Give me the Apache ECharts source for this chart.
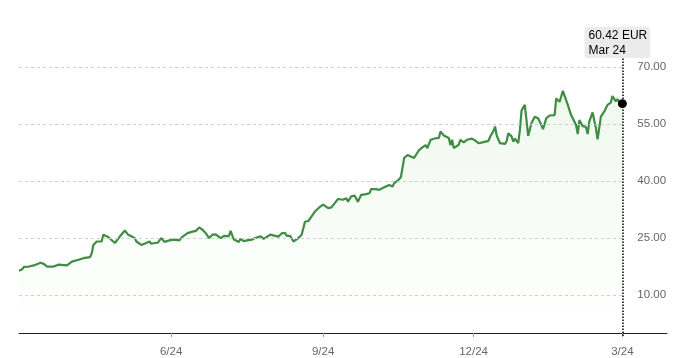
<!DOCTYPE html>
<html>
<head>
<meta charset="utf-8">
<script src="https://cdn.jsdelivr.net/npm/echarts@6/dist/echarts.min.js"></script>
<style>
html,body{margin:0;padding:0;background:#fff;}
#chart{width:680px;height:358px;}
</style>
</head>
<body>
<div id="chart"></div>
<script>
// ---- data ----
const startDate = '2024-03-24';           // first trading day shown
const extraAxisDays = 27;                 // axis continues past last data point
const dayOffsets = [0,2,3,6,9,13,15,17,21,24,29,32,36,39,43,44,45,47,50,51,54,58,61,64,66,68,70,71,74,75,77,79,80,82,84,86,88,91,94,97,99,102,105,107,109,111,113,115,117,119,120,122,124,127,128,130,133,134,136,138,141,143,146,148,152,155,157,159,161,162,164,166,169,171,173,175,177,179,182,184,185,187,189,191,193,196,198,199,201,203,205,207,210,212,213,216,218,220,222,224,226,227,229,231,233,235,237,239,240,242,244,246,247,249,252,254,255,257,258,260,261,262,263,264,266,267,269,271,274,276,278,281,284,285,287,288,289,291,294,295,296,298,299,300,302,303,304,306,307,308,310,312,314,316,317,319,321,324,325,327,328,329,330,332,334,337,338,339,341,343,344,345,347,349,350,352,354,356,358,359,361,362,363,365];
const prices = [16.4,16.8,17.4,17.5,17.8,18.5,18.2,17.5,17.5,18.0,17.8,18.8,19.3,19.7,20.0,21.0,23.2,24.1,24.1,25.9,25.3,23.7,25.4,27.0,25.9,25.5,25.0,24.1,23.2,23.7,23.7,24.1,23.5,23.7,23.8,25.0,24.0,24.4,24.6,24.4,25.4,26.3,26.7,26.9,27.8,27.2,26.3,25.0,25.9,26.0,26.3,25.0,25.6,25.5,26.9,24.6,24.0,24.8,24.2,24.4,24.6,25.0,25.5,24.8,25.9,25.6,25.4,26.3,26.3,25.6,25.6,24.1,25.0,25.9,29.3,29.5,30.7,32.0,33.2,33.8,33.4,32.9,33.1,34.2,35.3,35.1,35.5,34.6,36.0,36.2,34.6,36.4,36.6,36.8,37.9,37.9,37.7,38.2,38.6,39.0,38.6,39.5,40.1,41.0,46.1,46.9,46.5,46.1,45.9,48.2,48.9,49.5,48.7,50.9,51.3,51.4,53.1,52.0,51.8,51.4,49.5,50.9,48.7,48.9,49.6,50.9,50.2,50.9,51.2,50.7,50.0,50.3,50.6,51.7,53.2,54.4,52.0,50.0,49.8,50.6,52.6,51.8,50.4,51.2,50.0,53.5,58.6,60.1,56.1,51.9,55.3,57.0,56.6,54.8,53.7,56.6,57.3,57.4,61.8,60.9,62.3,63.8,63.4,60.1,57.4,54.8,52.4,56.1,54.5,54.3,52.4,55.7,58.1,54.0,51.0,57.0,58.3,60.1,60.7,62.4,61.0,61.6,60.9,60.42];
const xTickDays = [92, 184, 275, 365];    // 6/24, 9/24, 12/24, 3/24
const yTicks = [10, 25, 40, 55, 70];
const lastLabel = ['60.42 EUR', 'Mar 24'];

// ---- build categories (one per calendar day) ----
const totalDays = dayOffsets[dayOffsets.length - 1] + extraAxisDays + 1;
const t0 = Date.UTC(2024, 2, 24);
const categories = [];
for (let i = 0; i < totalDays; i++) {
  const d = new Date(t0 + i * 86400000);
  categories.push((d.getUTCMonth() + 1) + '/' + d.getUTCDate());
}
const seriesData = new Array(totalDays).fill(null);
dayOffsets.forEach((d, i) => { seriesData[d] = prices[i]; });
const lastDay = dayOffsets[dayOffsets.length - 1];
const lastPrice = prices[prices.length - 1];

const FONT = '"Liberation Sans", Arial, Helvetica, sans-serif';
const chart = echarts.init(document.getElementById('chart'), null, {renderer: 'canvas'});
chart.setOption({
  animation: false,
  backgroundColor: '#fff',
  textStyle: {fontFamily: FONT},
  grid: {left: 19, right: 13, top: 58, bottom: 22, containLabel: false},
  xAxis: {
    type: 'category',
    data: categories,
    boundaryGap: false,
    axisLine: {show: true, lineStyle: {color: '#222', width: 1}},
    axisTick: {show: true, length: 4, lineStyle: {color: '#999'},
      interval: (idx) => xTickDays.includes(idx)},
    axisLabel: {show: true, color: '#666', fontSize: 11.5, fontFamily: FONT, margin: 10,
      interval: (idx) => xTickDays.includes(idx)},
    splitLine: {show: false}
  },
  yAxis: {
    type: 'value',
    min: -0.8,
    max: 72.45,
    axisLine: {show: false},
    axisTick: {show: false},
    axisLabel: {show: false},
    splitLine: {show: false}
  },
  series: [
    {
      name: 'grid',
      type: 'line',
      data: new Array(totalDays).fill(null),
      silent: true,
      z: 1,
      symbol: 'none',
      markLine: {
        silent: true,
        symbol: ['none', 'none'],
        animation: false,
        lineStyle: {color: '#cfcfcf', type: [3, 3], width: 1},
        label: {show: true, position: 'end', distance: 15, color: '#666', fontSize: 11.5, fontFamily: FONT,
          formatter: (p) => Number(p.value).toFixed(2)},
        data: yTicks.map(v => [{coord: [0, v], value: v}, {coord: [lastDay, v]}])
      }
    },
    {
      name: 'price',
      type: 'line',
      data: seriesData,
      connectNulls: true,
      symbol: 'none',
      z: 3,
      lineStyle: {color: '#3f8c43', width: 2.2},
      areaStyle: {
        color: new echarts.graphic.LinearGradient(0, 0, 0, 1, [
          {offset: 0, color: 'rgba(120,195,100,0.16)'},
          {offset: 1, color: 'rgba(120,195,100,0.0)'}
        ])
      },
      markLine: {
        silent: true,
        symbol: ['none', 'none'],
        animation: false,
        lineStyle: {color: '#000', type: 'dotted', width: 1.5},
        label: {
          show: true,
          position: 'end',
          distance: 0,
          offset: [-5, 0],
          formatter: '{a|' + lastLabel[0] + '}\n{a|' + lastLabel[1] + '}',
          backgroundColor: '#ebebeb',
          borderRadius: 3,
          padding: [1, 3, 0, 4],
          rich: {a: {align: 'left', color: '#000', fontSize: 12, lineHeight: 15, fontFamily: FONT}}
        },
        data: [{xAxis: lastDay}]
      },
      markPoint: {
        silent: true,
        animation: false,
        symbol: 'circle',
        symbolSize: 9,
        itemStyle: {color: '#000'},
        label: {show: false},
        data: [{coord: [lastDay, lastPrice]}]
      }
    }
  ]
});
</script>
</body>
</html>
